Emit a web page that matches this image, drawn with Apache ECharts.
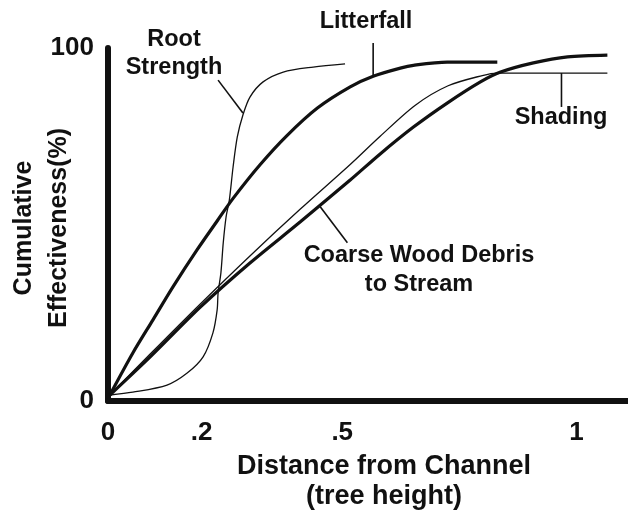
<!DOCTYPE html>
<html>
<head>
<meta charset="utf-8">
<script src="https://cdn.jsdelivr.net/npm/echarts@6/dist/echarts.min.js"></script>
<style>html,body{margin:0;padding:0;background:#fff}#c{width:628px;height:517px}</style>
</head>
<body>
<div id="c"></div>
<script>
// Distance from channel (tree heights) vs cumulative effectiveness (%)
const xTicks = [0, 0.2, 0.5, 1];
const xTickLabels = ['0', '.2', '.5', '1'];
const yTicks = [0, 100];
const yTickLabels = ['0', '100'];

const rootStrength = [[0.004,1.7],[0.053,2.5],[0.126,4.5],[0.169,7.9],[0.203,12.5],[0.224,19.3],[0.233,25.8],[0.235,30.6],[0.241,36.3],[0.246,44.8],[0.252,52.1],[0.259,56.9],[0.267,66.3],[0.276,74.8],[0.288,81.0],[0.303,86.1],[0.331,90.4],[0.374,93.2],[0.438,94.6],[0.506,95.5]];
const litterfall = [[0.004,1.7],[0.053,13.6],[0.096,23.0],[0.139,32.4],[0.190,42.8],[0.233,51.0],[0.267,57.4],[0.325,67.0],[0.382,75.2],[0.447,83.0],[0.517,89.0],[0.566,92.0],[0.624,94.3],[0.652,95.1],[0.724,96.0],[0.831,96.0]];
const coarseWood = [[0.004,1.7],[0.090,12.5],[0.197,26.6],[0.303,39.1],[0.410,50.7],[0.517,62.6],[0.581,70.0],[0.652,77.6],[0.724,84.4],[0.795,90.4],[0.838,93.2],[0.908,95.8],[0.981,97.5],[1.066,98.0]];
const shading = [[0.004,1.7],[0.090,13.3],[0.197,27.5],[0.303,41.1],[0.410,54.3],[0.517,67.0],[0.581,75.0],[0.656,83.8],[0.726,89.3],[0.799,92.2],[0.831,92.9],[1.066,92.9]];

// leader lines from labels to curves
const leaderRoot = [[0.235,90.9],[0.288,81.6]];
const leaderLitter = [[0.566,101.4],[0.566,92.0]];
const leaderShading = [[0.968,92.9],[0.968,83.3]];
const leaderCoarse = [[0.453,55.0],[0.511,44.8]];

const FONT = '"Liberation Sans", Arial, Helvetica, sans-serif';
const INK = '#111';

function fmt(list, labels){ return v => { const i = list.findIndex(t => Math.abs(t - v) < 1e-9); return i >= 0 ? labels[i] : ''; }; }

const chart = echarts.init(document.getElementById('c'), null, {renderer:'canvas'});

function curve(name, data, w){
  return {name, type:'line', data, showSymbol:false, smooth:0.3, clip:false,
    lineStyle:{color:INK, width:w}, z:3, silent:true};
}
function leader(data){
  return {type:'line', data, showSymbol:false, clip:false, lineStyle:{color:INK, width:1.6}, z:3, silent:true};
}

chart.setOption({
  animation:false,
  backgroundColor:'#fff',
  grid:{left:108, right:0, top:48, bottom:116, containLabel:false},
  xAxis:{type:'value', min:0, max:1.11,
    axisLine:{show:true, onZero:false, lineStyle:{color:INK, width:6}},
    axisTick:{show:false}, splitLine:{show:false},
    axisLabel:{customValues:xTicks, formatter:fmt(xTicks, xTickLabels), margin:19,
      color:INK, fontFamily:FONT, fontWeight:'bold', fontSize:26}},
  yAxis:{type:'value', min:0, max:100,
    axisLine:{show:true, onZero:false, lineStyle:{color:INK, width:6}},
    axisTick:{show:false}, splitLine:{show:false},
    axisLabel:{customValues:yTicks, formatter:fmt(yTicks, yTickLabels), margin:14,
      color:INK, fontFamily:FONT, fontWeight:'bold', fontSize:26}},
  series:[
    curve('Root Strength', rootStrength, 1.3),
    curve('Litterfall', litterfall, 3.2),
    curve('Coarse Wood Debris to Stream', coarseWood, 3.2),
    curve('Shading', shading, 1.3),
    leader(leaderRoot), leader(leaderLitter), leader(leaderShading), leader(leaderCoarse)
  ],
  graphic:[
    {type:'text', x:174, y:54, style:{text:'Root\nStrength', align:'center', verticalAlign:'middle', lineHeight:28, fill:INK, font:'bold 23.5px '+FONT}},
    {type:'text', x:366, y:22, style:{text:'Litterfall', align:'center', verticalAlign:'middle', fill:INK, font:'bold 23.5px '+FONT}},
    {type:'text', x:561, y:118, style:{text:'Shading', align:'center', verticalAlign:'middle', fill:INK, font:'bold 23.5px '+FONT}},
    {type:'text', x:419, y:270, style:{text:'Coarse Wood Debris\nto Stream', align:'center', verticalAlign:'middle', lineHeight:29, fill:INK, font:'bold 23.5px '+FONT}},
    {type:'text', x:384, y:482, style:{text:'Distance from Channel\n(tree height)', align:'center', verticalAlign:'middle', lineHeight:30, fill:INK, font:'bold 27px '+FONT}},
    {type:'text', x:42, y:228, rotation:Math.PI/2, style:{text:'Cumulative\nEffectiveness(%)', align:'center', verticalAlign:'middle', lineHeight:35, fill:INK, font:'bold 25px '+FONT}}
  ]
});
</script>
</body>
</html>
